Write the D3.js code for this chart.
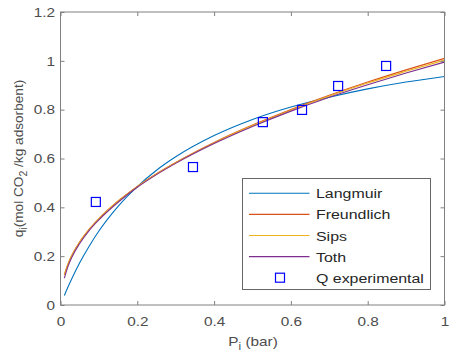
<!DOCTYPE html>
<html><head><meta charset="utf-8">
<script src="https://cdn.jsdelivr.net/npm/d3@7"></script>
<style>body{margin:0;background:#fff}svg{display:block}text{font-family:"Liberation Sans",Arial,sans-serif}</style>
</head><body>
<script>
const pressure = [0.01,0.02,0.03,0.05,0.075,0.1,0.15,0.2,0.25,0.3,0.4,0.5,0.6,0.7,0.8,0.9,1.0];
const langmuir  = [0.039,0.076,0.110,0.173,0.242,0.303,0.404,0.485,0.552,0.607,0.694,0.760,0.811,0.851,0.885,0.913,0.936];
const freundlich= [0.124,0.170,0.205,0.259,0.311,0.354,0.426,0.486,0.538,0.584,0.666,0.737,0.801,0.859,0.913,0.963,1.010];
const sips      = [0.123,0.169,0.204,0.258,0.310,0.353,0.425,0.485,0.536,0.583,0.664,0.735,0.798,0.856,0.909,0.957,1.003];
const toth      = [0.110,0.160,0.197,0.252,0.306,0.349,0.421,0.482,0.534,0.580,0.661,0.731,0.794,0.851,0.902,0.950,0.995];
const expP = [0.092,0.345,0.527,0.629,0.723,0.848];
const expQ = [0.422,0.565,0.749,0.799,0.897,0.979];
const xTicks = [0,0.2,0.4,0.6,0.8,1];
const yTicks = [0,0.2,0.4,0.6,0.8,1,1.2];
const seriesNames = ["Langmuir","Freundlich","Sips","Toth"];
const seriesColors = ["#0072BD","#D95319","#EDB120","#7E2F8E"];
const seriesData = [langmuir,freundlich,sips,toth];

const W=451,H=360;
const L=60.5,R=444.5,T=12,B=305;
const SX=1.18;
const svg=d3.select("body").append("svg").attr("width",W).attr("height",H);
const x=d3.scaleLinear().domain([0,1]).range([L,R]);
const y=d3.scaleLinear().domain([0,1.2]).range([B,T]);
const axisCol="#808080", txtCol="#4d4d4d";

// curves
const line=d3.line().x((d,i)=>x(pressure[i])).y(d=>y(d)).curve(d3.curveMonotoneX);
seriesData.forEach((s,k)=>{
  svg.append("path").datum(s).attr("d",line).attr("fill","none")
    .attr("stroke",seriesColors[k]).attr("stroke-width",1.1);
});
// markers
svg.selectAll("rect.m").data(expP).enter().append("rect").attr("class","m")
  .attr("x",(d)=>x(d)-4.5).attr("y",(d,i)=>y(expQ[i])-4.5)
  .attr("width",9).attr("height",9).attr("fill","none").attr("stroke","#0000FF").attr("stroke-width",1.2);

// axes (ticks inward, mirrored)
function styleAx(g){g.select(".domain").remove();g.selectAll("line").attr("stroke",axisCol);
  g.selectAll("text").attr("fill",txtCol).style("font-size","13px").attr("transform",`scale(${SX},1)`);}
svg.append("g").attr("transform",`translate(0,${B})`)
  .call(d3.axisBottom(x).tickValues(xTicks).tickFormat(d3.format("~g")).tickSizeInner(-4).tickSizeOuter(0).tickPadding(12))
  .call(styleAx);
svg.append("g").attr("transform",`translate(0,${T})`)
  .call(d3.axisTop(x).tickValues(xTicks).tickFormat("").tickSizeInner(-4).tickSizeOuter(0)).call(styleAx);
svg.append("g").attr("transform",`translate(${L},0)`)
  .call(d3.axisLeft(y).tickValues(yTicks).tickFormat(d3.format("~g")).tickSizeInner(-4).tickSizeOuter(0).tickPadding(4.7))
  .call(styleAx);
svg.append("g").attr("transform",`translate(${R},0)`)
  .call(d3.axisRight(y).tickValues(yTicks).tickFormat("").tickSizeInner(-4).tickSizeOuter(0)).call(styleAx);
svg.append("rect").attr("x",L).attr("y",T).attr("width",R-L).attr("height",B-T)
  .attr("fill","none").attr("stroke",axisCol).attr("stroke-width",1);

// axis titles
const xt=svg.append("text").attr("transform",`translate(253,345.5) scale(${SX},1)`).attr("text-anchor","middle").attr("fill",txtCol).style("font-size","13px");
xt.append("tspan").text("P");
xt.append("tspan").attr("dy",4).style("font-size","10px").text("i");
xt.append("tspan").attr("dy",-4).text(" (bar)");
const yt=svg.append("text").attr("transform",`translate(23,${(T+B)/2}) rotate(-90) scale(1.05,1)`).attr("text-anchor","middle").attr("fill",txtCol).style("font-size","13px");
yt.append("tspan").text("q");
yt.append("tspan").attr("dy",4).style("font-size","10px").text("i");
yt.append("tspan").attr("dy",-4).text("(mol CO");
yt.append("tspan").attr("dy",4).style("font-size","10px").text("2");
yt.append("tspan").attr("dy",-4).text(" /kg adsorbent)");

// legend
const lg=svg.append("g");
lg.append("rect").attr("x",242.5).attr("y",178.5).attr("width",188).attr("height",111)
  .attr("fill","#fff").attr("stroke","#666").attr("stroke-width",1);
const names=seriesNames.concat(["Q experimental"]);
names.forEach((n,i)=>{
  const yy=193.3+i*21.1;
  if(i<4){
    lg.append("line").attr("x1",249).attr("x2",309.5).attr("y1",yy).attr("y2",yy)
      .attr("stroke",seriesColors[i]).attr("stroke-width",1.1);
  } else {
    lg.append("rect").attr("x",280-4.5).attr("y",yy-4.5).attr("width",9).attr("height",9)
      .attr("fill","none").attr("stroke","#0000FF").attr("stroke-width",1.2);
  }
  lg.append("text").attr("transform",`translate(316,${yy+5}) scale(${SX},1)`).attr("fill","#262626").style("font-size","13.5px").text(n);
});
</script>
</body></html>
